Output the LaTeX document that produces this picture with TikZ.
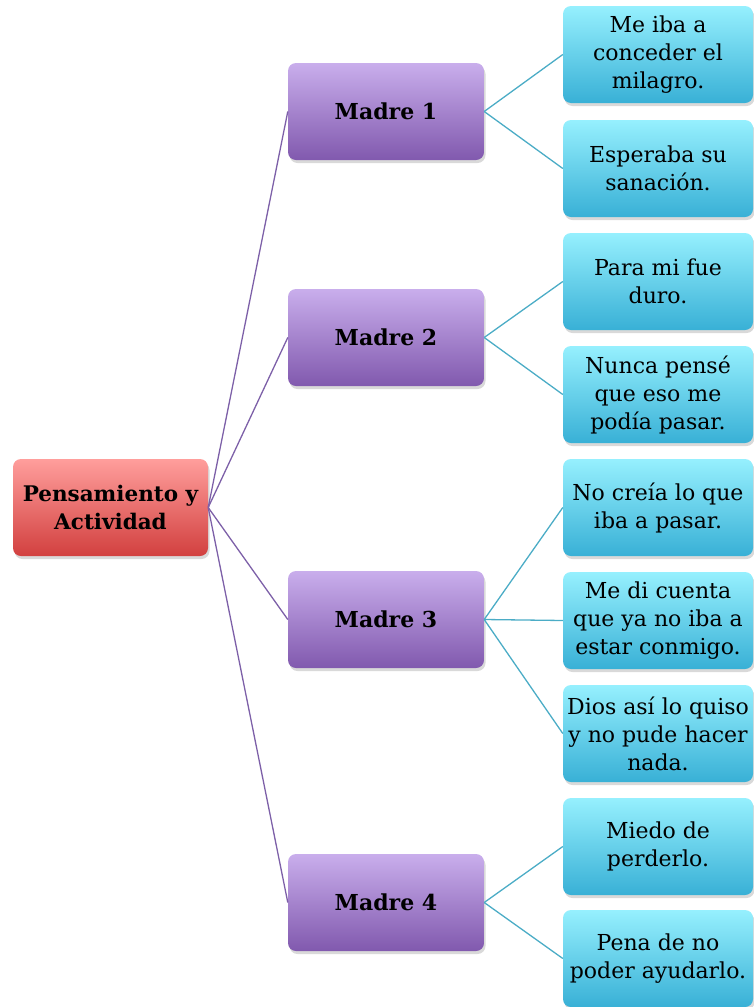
\documentclass[tikz,border=0pt]{standalone}
\usepackage{fontspec}
\setmainfont{DejaVu Serif}
\usetikzlibrary{shadows}
\definecolor{rootTop}{HTML}{FF9E9C}
\definecolor{rootBot}{HTML}{D2403F}
\definecolor{madTop}{HTML}{C9AEEC}
\definecolor{madBot}{HTML}{8159AE}
\definecolor{leafTop}{HTML}{96F0FE}
\definecolor{leafBot}{HTML}{38B0D6}
\definecolor{purpleLine}{HTML}{7D60A8}
\definecolor{tealLine}{HTML}{4BACC6}
\begin{document}
\begin{tikzpicture}[x=1pt,y=-1pt,
  box/.style={rectangle, rounded corners=8pt, minimum height=97pt, align=center, inner sep=1pt,
    font=\fontsize{22}{28}\selectfont,
    drop shadow={opacity=0.3, shadow xshift=1.5pt, shadow yshift=-3pt}},
  rootbox/.style={box, minimum width=195pt, top color=rootTop, bottom color=rootBot,
    font=\bfseries\fontsize{21.5}{28}\selectfont},
  madrebox/.style={box, minimum width=196pt, top color=madTop, bottom color=madBot,
    font=\bfseries\fontsize{22}{28}\selectfont},
  leafbox/.style={box, minimum width=190pt, top color=leafTop, bottom color=leafBot},
  plink/.style={draw=purpleLine, line width=1.3pt},
  tlink/.style={draw=tealLine, line width=1.3pt}
]
\useasboundingbox (0,0) rectangle (754,1007);

\node[rootbox] (root) at (110.5,507.5) {Pensamiento y\\Actividad};

\node[madrebox] (m1) at (386,111.5) {Madre 1};
\node[madrebox] (m2) at (386,337.5) {Madre 2};
\node[madrebox] (m3) at (386,619.5) {Madre 3};
\node[madrebox] (m4) at (386,902.5) {Madre 4};

\node[leafbox] (l1) at (658,54.5) {Me iba a\\conceder el\\milagro.};
\node[leafbox] (l2) at (658,168.5) {Esperaba su\\sanación.};
\node[leafbox] (l3) at (658,281.5) {Para mi fue\\duro.};
\node[leafbox] (l4) at (658,394.5) {Nunca pensé\\que eso me\\podía pasar.};
\node[leafbox] (l5) at (658,507.5) {No creía lo que\\iba a pasar.};
\node[leafbox] (l6) at (658,620.5) {Me di cuenta\\que ya no iba a\\estar conmigo.};
\node[leafbox] (l7) at (658,733.5) {Dios así lo quiso\\y no pude hacer\\nada.};
\node[leafbox] (l8) at (658,846.5) {Miedo de\\perderlo.};
\node[leafbox] (l9) at (658,958.5) {Pena de no\\poder ayudarlo.};

\foreach \m in {m1,m2,m3,m4}
  \draw[plink] (root.east) -- (\m.west);

\draw[tlink] (m1.east) -- (l1.west);
\draw[tlink] (m1.east) -- (l2.west);
\draw[tlink] (m2.east) -- (l3.west);
\draw[tlink] (m2.east) -- (l4.west);
\draw[tlink] (m3.east) -- (l5.west);
\draw[tlink] (m3.east) -- (l6.west);
\draw[tlink] (m3.east) -- (l7.west);
\draw[tlink] (m4.east) -- (l8.west);
\draw[tlink] (m4.east) -- (l9.west);
\end{tikzpicture}
\end{document}
